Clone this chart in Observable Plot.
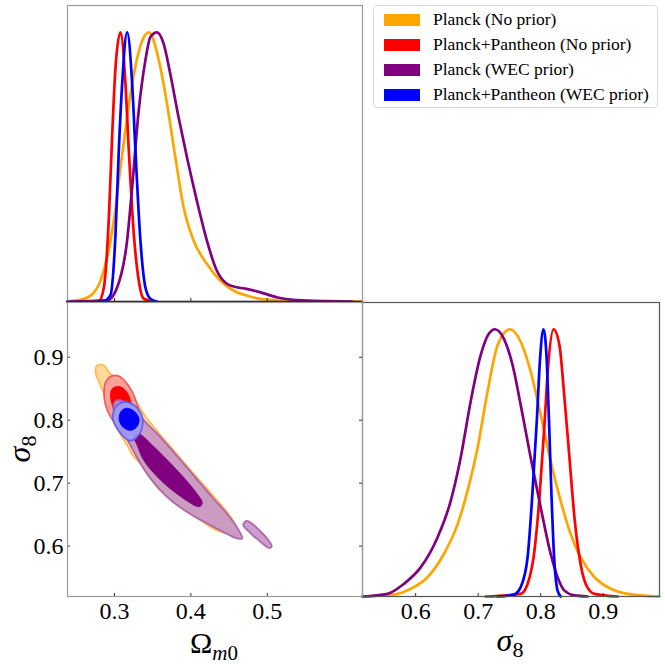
<!DOCTYPE html>
<html>
<head>
<meta charset="utf-8">
<script src="https://cdn.jsdelivr.net/npm/d3@7"></script>
<script src="https://cdn.jsdelivr.net/npm/@observablehq/plot@0.6"></script>
<style>
  body { margin: 0; background: #fff; }
  #wrap { position: relative; width: 665px; height: 664px; overflow: hidden; font-family: "Liberation Serif", "Times New Roman", serif; }
  #wrap svg, #wrap svg text { font-family: "Liberation Serif", "Times New Roman", serif !important; }
  .pnl { position: absolute; }
  #legend { position: absolute; left: 373px; top: 5px; width: 285px; height: 103px; border: 1px solid #d9d9d9; border-radius: 4px; background: #fff; box-sizing: border-box; }
  .lrow { position: absolute; left: 0; height: 20px; }
  .lpatch { position: absolute; left: 10px; top: 4px; width: 36px; height: 12px; }
  .ltext { position: absolute; left: 59px; top: -1px; font-size: 17.5px; line-height: 20px; white-space: nowrap; color: #000; }
  #labels { position: absolute; left: 0; top: 0; pointer-events: none; }
</style>
</head>
<body>
<div id="wrap"></div>
<script>
// ---------- data ----------
const seriesNames = ["Planck (No prior)", "Planck+Pantheon (No prior)", "Planck (WEC prior)", "Planck+Pantheon (WEC prior)"];
const seriesColors = ["orange", "red", "purple", "blue"];
const seriesLight = ["#ffd591", "#ff9a9a", "#c593c5", "#9a9aff"];
const seriesEdge = ["#ffb441", "#f05050", "#a95aa9", "#5a5af0"];
const omegaTicks = [0.3, 0.4, 0.5];
const sigmaTicks = [0.6, 0.7, 0.8, 0.9];

// 1D marginal of Omega_m0 : [Omega, normalised density]
const omPlanckNo = [[0.238,0],[0.2513,0.004],[0.2687,0.022],[0.2817,0.078],[0.2905,0.165],[0.2991,0.30],[0.3078,0.50],[0.3165,0.685],[0.3231,0.809],[0.3339,0.95],[0.3448,1.0],[0.3600,0.871],[0.3687,0.735],[0.3796,0.537],[0.3904,0.351],[0.4035,0.227],[0.4209,0.140],[0.4383,0.078],[0.4556,0.041],[0.4731,0.022],[0.4904,0.010],[0.5339,0.002],[0.625,0]];
const omPantheonNo = [[0.270,0],[0.2796,0.002],[0.2861,0.053],[0.2926,0.313],[0.2970,0.623],[0.3013,0.871],[0.3078,1],[0.3143,0.809],[0.3187,0.561],[0.3252,0.252],[0.3317,0.078],[0.3383,0.010],[0.3513,0]];
const omPlanckWEC = [[0.238,0],[0.2905,0.004],[0.3035,0.053],[0.3165,0.227],[0.3231,0.425],[0.3317,0.710],[0.3404,0.896],[0.3470,0.983],[0.3556,1.0],[0.3643,0.958],[0.3730,0.846],[0.3839,0.685],[0.3948,0.537],[0.4078,0.375],[0.4209,0.227],[0.4339,0.115],[0.4470,0.066],[0.4600,0.053],[0.4731,0.047],[0.4904,0.035],[0.5122,0.016],[0.5339,0.006],[0.5600,0.002],[0.6110,0]];
const omPantheonWEC = [[0.2800,0],[0.2861,0.002],[0.2948,0.025],[0.3013,0.252],[0.3056,0.561],[0.3100,0.809],[0.3165,1],[0.3231,0.809],[0.3274,0.561],[0.3339,0.227],[0.3404,0.053],[0.3470,0.010],[0.3556,0]];

// 1D marginal of sigma_8 : [sigma8, normalised density]
const s8PlanckNo = [[0.515,0],[0.565,0.007],[0.592,0.029],[0.619,0.072],[0.645,0.159],[0.667,0.270],[0.683,0.395],[0.699,0.556],[0.715,0.767],[0.731,0.940],[0.751,1],[0.768,0.953],[0.784,0.841],[0.800,0.680],[0.816,0.506],[0.832,0.357],[0.848,0.233],[0.864,0.146],[0.886,0.072],[0.912,0.029],[0.939,0.010],[0.990,0]];
const s8PantheonNo = [[0.712,0],[0.768,0.010],[0.779,0.047],[0.790,0.171],[0.798,0.370],[0.806,0.643],[0.812,0.866],[0.8205,1],[0.830,0.940],[0.838,0.742],[0.846,0.519],[0.854,0.295],[0.862,0.146],[0.872,0.047],[0.886,0.010],[0.923,0]];
const s8PlanckWEC = [[0.515,0],[0.555,0.010],[0.581,0.047],[0.608,0.109],[0.635,0.221],[0.656,0.357],[0.672,0.519],[0.688,0.730],[0.704,0.903],[0.717,0.983],[0.727,1],[0.741,0.965],[0.755,0.866],[0.768,0.717],[0.784,0.519],[0.800,0.333],[0.816,0.159],[0.827,0.072],[0.838,0.022],[0.854,0.004],[0.875,0]];
const s8PantheonWEC = [[0.731,0],[0.757,0.007],[0.768,0.035],[0.779,0.146],[0.787,0.395],[0.794,0.667],[0.799,0.891],[0.8045,1],[0.810,0.866],[0.8135,0.643],[0.817,0.395],[0.8215,0.146],[0.827,0.022],[0.832,0]];

// 2D credible-region outlines : [Omega, sigma8]
const cPlanckNo95 = [[0.2773,0.887],[0.2860,0.887],[0.2925,0.877],[0.3010,0.866],[0.3120,0.855],[0.3220,0.840],[0.3320,0.822],[0.3406,0.806],[0.3600,0.777],[0.3777,0.752],[0.4039,0.715],[0.4300,0.679],[0.4519,0.647],[0.4607,0.626],[0.4585,0.617],[0.4476,0.620],[0.4340,0.625],[0.4126,0.641],[0.3864,0.662],[0.3602,0.688],[0.3428,0.715],[0.3340,0.731],[0.3232,0.745],[0.3166,0.760],[0.3079,0.777],[0.2991,0.797],[0.2904,0.829],[0.2817,0.855],[0.2751,0.876]];
const cPantheonNo95 = [[0.2862,0.845],[0.2890,0.862],[0.2960,0.870],[0.3056,0.870],[0.3144,0.861],[0.3232,0.845],[0.3297,0.825],[0.3345,0.803],[0.3360,0.785],[0.3330,0.772],[0.3250,0.770],[0.3150,0.776],[0.3040,0.790],[0.2950,0.805],[0.2880,0.825]];
const cPantheonNo68 = [[0.2950,0.845],[0.2990,0.852],[0.3079,0.853],[0.3166,0.844],[0.3215,0.829],[0.3230,0.812],[0.3190,0.800],[0.3100,0.800],[0.3020,0.810],[0.2965,0.826]];
const cPlanckWEC95 = [[0.2990,0.826],[0.3013,0.831],[0.3080,0.832],[0.3200,0.826],[0.3300,0.815],[0.3384,0.800],[0.3472,0.789],[0.3580,0.776],[0.3777,0.749],[0.4039,0.712],[0.4278,0.678],[0.4476,0.651],[0.4628,0.625],[0.4672,0.612],[0.4563,0.614],[0.4431,0.622],[0.4213,0.636],[0.3952,0.654],[0.3690,0.678],[0.3472,0.707],[0.3340,0.731],[0.3188,0.765],[0.3056,0.797],[0.2990,0.815]];
const cPlanckWECisland = [[0.4685,0.634],[0.4730,0.640],[0.4800,0.636],[0.4900,0.625],[0.5000,0.612],[0.5060,0.600],[0.5020,0.597],[0.4950,0.603],[0.4850,0.613],[0.4750,0.624]];
const cPlanckWEC68 = [[0.3260,0.778],[0.3340,0.777],[0.3515,0.758],[0.3777,0.726],[0.4039,0.690],[0.4149,0.669],[0.4120,0.663],[0.4083,0.663],[0.3864,0.679],[0.3602,0.705],[0.3384,0.736],[0.3297,0.760],[0.3255,0.772]];
const cPantheonWEC95 = [[0.2990,0.815],[0.3035,0.824],[0.3144,0.829],[0.3275,0.822],[0.3362,0.806],[0.3362,0.789],[0.3275,0.771],[0.3188,0.768],[0.3056,0.783],[0.2977,0.803]];
const cPantheonWEC68 = [[0.3080,0.813],[0.3150,0.819],[0.3250,0.815],[0.3320,0.803],[0.3300,0.791],[0.3220,0.784],[0.3120,0.788],[0.3062,0.800]];

// ---------- layout ----------
const omegaDomain = [0.2384, 0.6248];
const sigmaDomain2D = [0.520, 0.987];
const sigmaDomain1D = [0.515, 0.990];
const FONT = "Liberation Serif";
const fmt = d3.format(".1f");
const wrap = document.getElementById("wrap");

function place(el, left, top) {
  el.classList.add("pnl");
  el.style.left = left + "px";
  el.style.top = top + "px";
  wrap.appendChild(el);
}

const omSeries = [omPlanckNo, omPantheonNo, omPlanckWEC, omPantheonWEC];
const s8Series = [s8PlanckNo, s8PantheonNo, s8PlanckWEC, s8PantheonWEC];

function curveMarks(series) {
  return series.map((d, i) => Plot.line(d, {
    x: p => p[0], y: p => p[1], stroke: seriesColors[i], strokeWidth: 2.7, curve: "monotone-x"
  }));
}

const baseStyle = {background: "transparent", overflow: "visible", fontFamily: FONT, color: "#000"};

// right panel (sigma8 marginal)
const right = Plot.plot({
  width: 306, height: 362,
  marginLeft: 3, marginRight: 6, marginTop: 2, marginBottom: 66,
  x: {domain: sigmaDomain1D, axis: null},
  y: {domain: [0, 1.1], axis: null},
  style: baseStyle,
  marks: [
    ...curveMarks(s8Series),
    Plot.axisX(sigmaTicks, {tickSize: 0, tickPadding: 5, fontSize: 24, label: null, fill: "#000", tickFormat: fmt}),
    Plot.tickX(sigmaTicks, {x: d => d, insetTop: 291, stroke: "#333"}),
    Plot.frame({stroke: "#555", strokeWidth: 1.2})
  ]
});
place(right, 359, 300);

// top panel (Omega marginal)
const topP = Plot.plot({
  width: 365, height: 304,
  marginLeft: 67, marginRight: 3, marginTop: 5, marginBottom: 3,
  x: {domain: omegaDomain, axis: null},
  y: {domain: [0, 1.1], axis: null},
  style: baseStyle,
  marks: [
    ...curveMarks(omSeries),
    Plot.tickX(omegaTicks, {x: d => d, insetTop: 293, stroke: "#333"}),
    Plot.frame({stroke: "#999", strokeWidth: 1.2}),
    Plot.ruleY([0], {stroke: "#222", strokeWidth: 1.3})
  ]
});
place(topP, 0, 0);

// 2D contour panel
function region(d, i, level) {
  const outer = level === 95;
  return Plot.line(d, {
    x: p => p[0], y: p => p[1], curve: "catmull-rom-closed",
    fill: outer ? seriesLight[i] : seriesColors[i], fillOpacity: outer ? 0.9 : 1,
    stroke: outer ? seriesEdge[i] : seriesColors[i], strokeOpacity: outer ? 0.9 : 1, strokeWidth: outer ? 1.7 : 0.8
  });
}
const mid = Plot.plot({
  width: 365, height: 362,
  marginLeft: 67, marginRight: 3, marginTop: 2, marginBottom: 66,
  x: {domain: omegaDomain, axis: null},
  y: {domain: sigmaDomain2D, axis: null},
  style: baseStyle,
  marks: [
    region(cPlanckNo95, 0, 95),
    region(cPantheonNo95, 1, 95),
    region(cPantheonNo68, 1, 68),
    region(cPlanckWEC95, 2, 95),
    region(cPlanckWECisland, 2, 95),
    region(cPlanckWEC68, 2, 68),
    region(cPantheonWEC95, 3, 95),
    region(cPantheonWEC68, 3, 68),
    Plot.axisX(omegaTicks, {tickSize: 0, tickPadding: 5, fontSize: 24, label: null, fill: "#000", tickFormat: fmt}),
    Plot.axisY(sigmaTicks, {tickSize: 0, tickPadding: 4, fontSize: 24, label: null, fill: "#000", tickFormat: fmt}),
    Plot.tickX(omegaTicks, {x: d => d, insetTop: 291, stroke: "#333"}),
    Plot.tickY(sigmaTicks, {y: d => d, insetRight: 292, stroke: "#333"}),
    Plot.tickY(sigmaTicks, {y: d => d, insetLeft: 292, stroke: "#333"}),
    Plot.frame({stroke: "#999", strokeWidth: 1.2})
  ]
});
place(mid, 0, 300);

// axis labels (real text)
const svg = d3.select(wrap).append("svg").attr("id", "labels").attr("width", 665).attr("height", 664)
  .attr("fill", "#000");
const om = svg.append("text").attr("x", 214).attr("y", 653).attr("text-anchor", "middle").attr("font-size", 30);
om.append("tspan").text("Ω");
om.append("tspan").attr("font-style", "italic").attr("font-size", 21).attr("dy", 7).text("m");
om.append("tspan").attr("font-size", 21).text("0");
const sb = svg.append("text").attr("x", 510).attr("y", 651).attr("text-anchor", "middle").attr("font-size", 32);
sb.append("tspan").attr("font-style", "italic").text("σ");
sb.append("tspan").attr("font-size", 22).attr("dy", 6).text("8");
const sl = svg.append("text").attr("transform", "translate(30,449) rotate(-90)").attr("text-anchor", "middle").attr("font-size", 32);
sl.append("tspan").attr("font-style", "italic").text("σ");
sl.append("tspan").attr("font-size", 22).attr("dy", 6).text("8");

// legend
const leg = document.createElement("div");
leg.id = "legend";
seriesNames.forEach((name, i) => {
  const row = document.createElement("div");
  row.className = "lrow";
  row.style.top = (4 + i * 25) + "px";
  const patch = document.createElement("div");
  patch.className = "lpatch";
  patch.style.background = seriesColors[i];
  const txt = document.createElement("div");
  txt.className = "ltext";
  txt.textContent = name;
  row.appendChild(patch);
  row.appendChild(txt);
  leg.appendChild(row);
});
wrap.appendChild(leg);
</script>
</body>
</html>
